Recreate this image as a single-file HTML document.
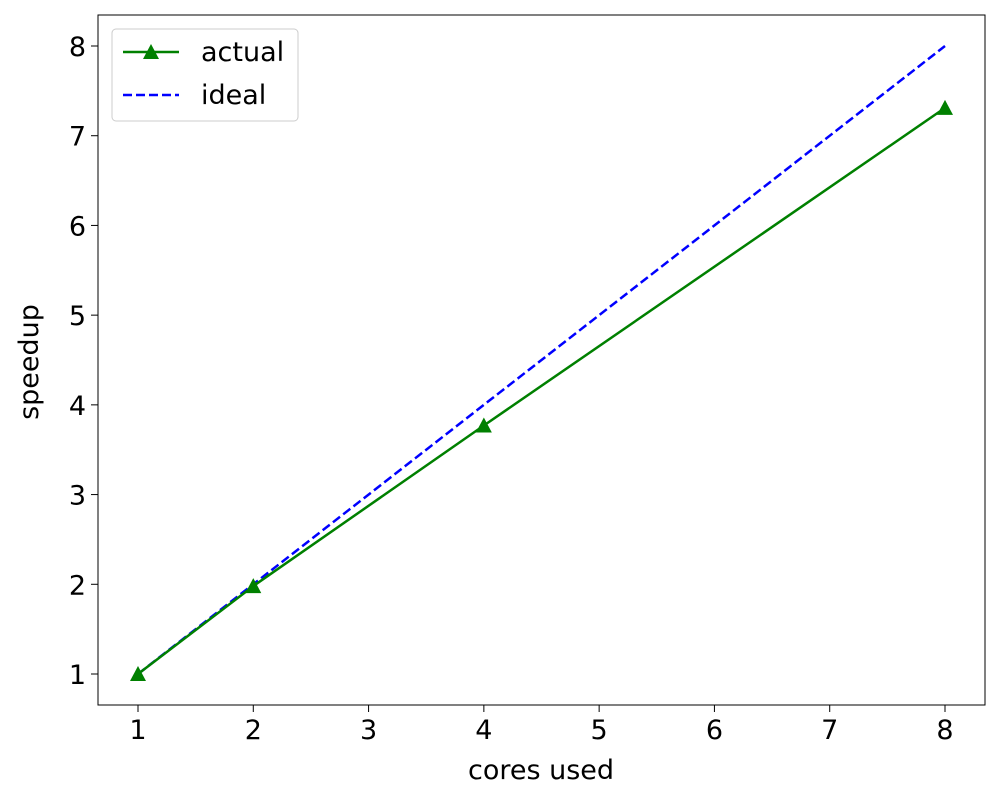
<!DOCTYPE html>
<html><head><meta charset="utf-8"><style>
body{margin:0;background:#fff;}
svg text{font-family:"DejaVu Sans","Liberation Sans",sans-serif;}
</style></head><body>
<svg id="chart" width="1000" height="800">
<rect x="98" y="15" width="887" height="690" fill="none" stroke="#000" stroke-width="1"/>
<g id="xt"></g><g id="yt"></g><g id="series"></g>
<text x="541" y="779" font-size="27" text-anchor="middle">cores used</text>
<text transform="translate(38,362) rotate(-90)" font-size="27" text-anchor="middle">speedup</text>
<g>
<rect x="112" y="29" width="186" height="92" rx="4" fill="#fff" stroke="#ccc"/>
<g>
<line x1="123" y1="52" x2="179" y2="52" stroke="green" stroke-width="2.5"/>
<polygon points="151,44 159,59 143,59" fill="green"/>
<text x="201" y="61" font-size="27">actual</text></g>
<g>
<line x1="123" y1="95" x2="179" y2="95" stroke="blue" stroke-width="2.5" stroke-dasharray="9,4"/>
<text x="201" y="104" font-size="27">ideal</text></g>
</g>
</svg>
<script>
const cores=[1,2,4,8];
const actual=[1,1.98,3.77,7.31];
const ideal=[1,2,4,8];
const xTicks=[1,2,3,4,5,6,7,8];
const yTicks=[1,2,3,4,5,6,7,8];
const NS="http://www.w3.org/2000/svg";
const xs=v=>138+(v-1)*(945-138)/7;
const ys=v=>674-(v-1)*(674-46)/7;
function mk(t,a,p){const e=document.createElementNS(NS,t);for(const k in a)e.setAttribute(k,a[k]);p.appendChild(e);return e;}
const xt=document.getElementById('xt'),yt=document.getElementById('yt'),s=document.getElementById('series');
xTicks.forEach(v=>{const g=mk('g',{},xt);


mk('line',{x1:xs(v),x2:xs(v),y1:705,y2:712,stroke:'#000'},g);
const t=mk('text',{x:xs(v),y:739,'font-size':27,'text-anchor':'middle'},g);t.textContent=v;});
yTicks.forEach(v=>{const g=mk('g',{},yt);


mk('line',{x1:91,x2:98,y1:ys(v),y2:ys(v),stroke:'#000'},g);
const t=mk('text',{x:86,y:ys(v)+10,'font-size':27,'text-anchor':'end'},g);t.textContent=v;});
const il=mk('polyline',{points:cores.map((c,i)=>xs(c)+','+ys(ideal[i])).join(' '),fill:'none',stroke:'blue','stroke-width':2.5,'stroke-dasharray':'9,4'},s);


const al=mk('polyline',{points:cores.map((c,i)=>xs(c)+','+ys(actual[i])).join(' '),fill:'none',stroke:'green','stroke-width':2.5},s);


cores.forEach((c,i)=>{const x=xs(c),y=ys(actual[i]);
const p=mk('polygon',{points:`${x},${y-8} ${x+8},${y+7} ${x-8},${y+7}`,fill:'green'},s);

});
</script>
</body></html>
